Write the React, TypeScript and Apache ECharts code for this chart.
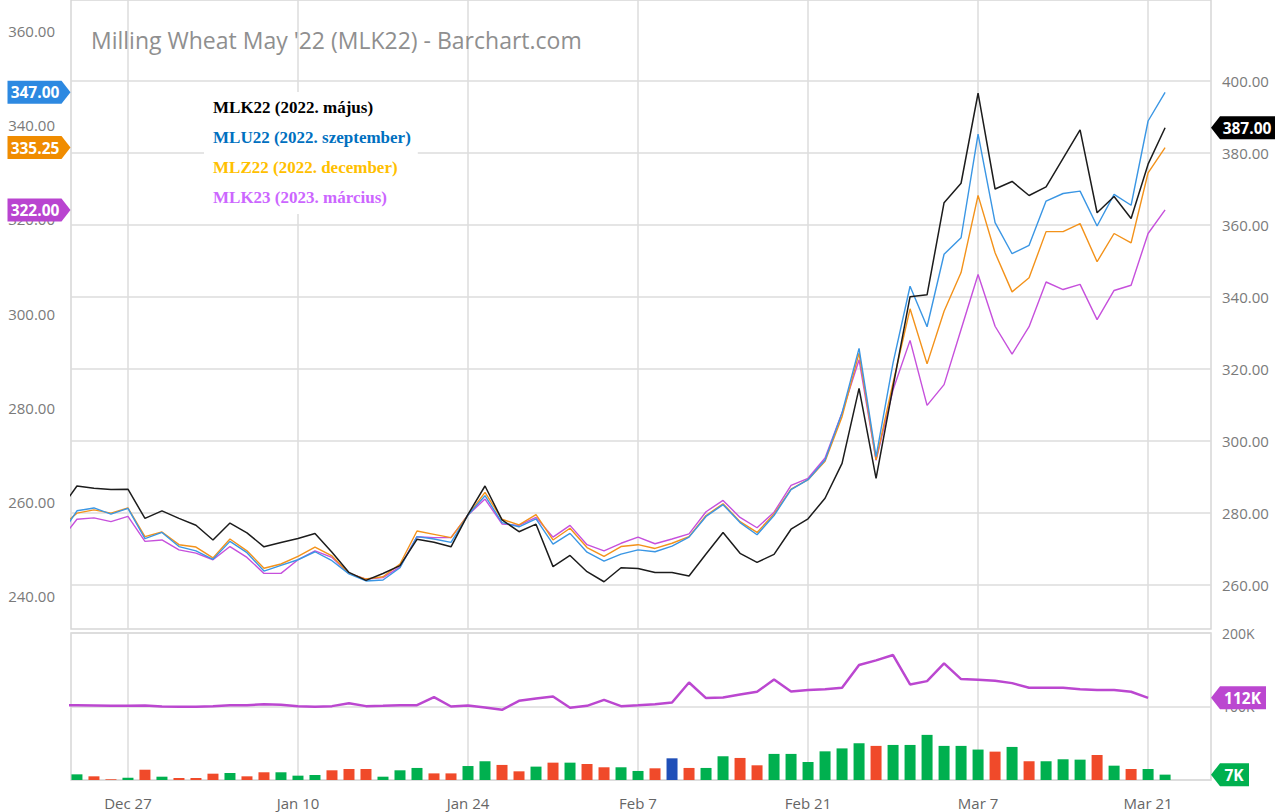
import React, { useEffect, useRef } from 'react';
import * as echarts from 'echarts';

// Trading days; the first one (Dec 21) lies just left of the visible range.
const dates = [
  'Dec 21', 'Dec 22', 'Dec 23', 'Dec 24', 'Dec 27', 'Dec 28', 'Dec 29', 'Dec 30', 'Dec 31',
  'Jan 3', 'Jan 4', 'Jan 5', 'Jan 6', 'Jan 7', 'Jan 10', 'Jan 11', 'Jan 12', 'Jan 13', 'Jan 14',
  'Jan 17', 'Jan 18', 'Jan 19', 'Jan 20', 'Jan 21', 'Jan 24', 'Jan 25', 'Jan 26', 'Jan 27', 'Jan 28',
  'Jan 31', 'Feb 1', 'Feb 2', 'Feb 3', 'Feb 4', 'Feb 7', 'Feb 8', 'Feb 9', 'Feb 10', 'Feb 11',
  'Feb 14', 'Feb 15', 'Feb 16', 'Feb 17', 'Feb 18', 'Feb 21', 'Feb 22', 'Feb 23', 'Feb 24', 'Feb 25',
  'Feb 28', 'Mar 1', 'Mar 2', 'Mar 3', 'Mar 4', 'Mar 7', 'Mar 8', 'Mar 9', 'Mar 10', 'Mar 11',
  'Mar 14', 'Mar 15', 'Mar 16', 'Mar 17', 'Mar 18', 'Mar 21', 'Mar 22',
];
const xLabelDates = ['Dec 27', 'Jan 10', 'Jan 24', 'Feb 7', 'Feb 21', 'Mar 7', 'Mar 21'];

const seriesNames = [
  'MLK22 (2022. május)',
  'MLU22 (2022. szeptember)',
  'MLZ22 (2022. december)',
  'MLK23 (2023. március)',
];

const mlk22 = [280.9,
  287.5, 286.9, 286.5, 286.6, 278.5, 280.6, 278.5, 276.6, 272.5, 277.2,
  274.5, 270.6, 271.8, 272.9, 274.3, 269.1, 263.5, 261.3, 263.2, 265.4,
  272.7, 271.9, 270.6, 279.6, 287.5, 278.1, 274.8, 276.9, 265.1, 268.2,
  263.7, 260.9, 264.8, 264.6, 263.5, 263.5, 262.5, 268.6, 274.6, 268.8,
  266.3, 268.5, 275.5, 278.4, 284.1, 293.8, 314.6, 289.6, 315.1, 340.1,
  340.6, 366.2, 371.6, 396.6, 370.0, 372.1, 368.2, 370.6, 378.5, 386.4,
  363.4, 367.9, 361.8, 376.9, 387.0];

const mlu22 = [252.7,
  258.1, 258.7, 257.4, 258.6, 252.2, 253.5, 250.5, 249.6, 247.8, 251.6,
  249.2, 245.3, 246.5, 247.7, 249.4, 247.5, 244.7, 243.2, 243.4, 246.0,
  252.6, 252.1, 251.4, 257.2, 261.3, 255.6, 254.7, 256.4, 251.0, 253.3,
  249.3, 247.4, 248.9, 249.8, 249.4, 250.6, 252.5, 256.9, 259.4, 255.6,
  253.0, 257.1, 262.6, 264.7, 268.9, 278.9, 292.6, 269.6, 289.5, 305.8,
  297.2, 312.6, 316.1, 338.1, 319.3, 312.7, 314.5, 323.9, 325.5, 326.0,
  318.6, 325.3, 323.0, 340.9, 347.0];

const mlz22 = [254.5,
  257.6, 258.3, 257.6, 258.7, 252.6, 253.6, 250.9, 250.4, 248.1, 252.1,
  249.6, 245.9, 246.8, 248.4, 250.4, 248.5, 244.8, 243.6, 244.1, 246.8,
  253.8, 253.1, 252.4, 257.2, 262.0, 256.3, 255.1, 257.3, 251.9, 254.4,
  250.3, 248.4, 250.5, 250.9, 250.1, 251.2, 252.6, 257.1, 259.6, 255.8,
  253.5, 257.4, 262.7, 264.7, 268.6, 278.1, 291.6, 268.9, 285.3, 301.0,
  289.3, 300.5, 308.7, 325.1, 312.9, 304.6, 307.6, 317.4, 317.4, 319.1,
  311.0, 317.0, 315.0, 329.9, 335.25];

const mlk23 = [251.7,
  256.3, 256.6, 255.8, 256.9, 251.6, 251.9, 249.8, 249.1, 247.7, 250.5,
  248.2, 244.8, 244.8, 247.7, 249.6, 248.2, 244.8, 243.6, 243.9, 246.2,
  252.6, 252.4, 252.4, 257.2, 260.6, 255.3, 255.0, 256.7, 252.5, 255.0,
  250.9, 249.6, 251.2, 252.5, 251.1, 252.1, 253.2, 257.9, 260.3, 256.7,
  254.5, 257.8, 263.5, 265.0, 269.3, 278.9, 290.2, 268.8, 283.8, 294.3,
  280.5, 284.9, 296.6, 308.3, 297.3, 291.4, 297.2, 306.7, 305.1, 306.2,
  298.7, 304.9, 306.0, 317.0, 322.0];

// Volume in thousands of contracts
const volumeK = [null,
  7.7, 5, 1, 3.2, 14, 4.5, 2.7, 2.7, 8.6, 9.5,
  5, 10.5, 10.5, 5.9, 6.8, 13.2, 15, 15, 4.5, 13.2,
  16.4, 9, 9, 19, 25.5, 20.5, 11.8, 18.2, 23.6, 23.6,
  21.8, 17.3, 17.3, 12.3, 15.9, 29.5, 16.4, 16.4, 32.3, 30,
  20, 35.5, 35.5, 24.5, 39, 43, 50, 46.4, 47.7, 47.7,
  61.4, 46.4, 46.4, 41.4, 38.6, 45, 25.5, 25.5, 28.2, 27.7,
  34, 19.5, 15, 15, 7.3];
// +1 up day, -1 down day, 0 unchanged
const volumeChange = [0,
  1, -1, -1, 1, -1, 1, -1, -1, -1, 1,
  -1, -1, 1, 1, 1, -1, -1, -1, 1, 1,
  1, -1, -1, 1, 1, -1, -1, 1, -1, 1,
  -1, -1, 1, 1, -1, 0, -1, 1, 1, -1,
  -1, 1, 1, 1, 1, 1, 1, -1, 1, 1,
  1, 1, 1, 1, -1, 1, -1, 1, 1, 1,
  -1, 1, -1, 1, 1];
// Open interest in thousands
const openInterestK = [101.8,
  101.8, 101.4, 100.9, 100.9, 101.4, 100, 99.5, 99.5, 100.5, 101.8,
  101.8, 103.2, 102.3, 100.5, 99.5, 100.5, 104.5, 100.5, 100.9, 101.8,
  101.8, 112.7, 100, 101.4, 98.6, 95.5, 107.7, 110.9, 113.6, 98.2,
  100.9, 109.1, 100.5, 101.8, 103.2, 105.5, 132.7, 111.4, 112.3, 116.4,
  120, 136.8, 120.5, 122.3, 123.6, 125.5, 156.4, 162.7, 170, 130,
  134.5, 158.6, 137.3, 136.4, 135, 131.8, 125.5, 125.5, 125.5, 123.6,
  122.3, 122.3, 120, 111.8, null];

const leftTicks = [240, 260, 280, 300, 320, 340, 360];
const rightTicks = [260, 280, 300, 320, 340, 360, 380, 400];

const FONT = "'Open Sans', 'Noto Sans', sans-serif";

export default function App() {
  const ref = useRef<HTMLDivElement>(null);
  useEffect(() => {
    const chart = echarts.init(ref.current!, null, { renderer: 'svg' });
    const X_MIN = -0.35;
    const X_MAX = 66.7;
    const xOf = (k: number) => k - 1;
    const pair = (arr: (number | null)[]) => arr.map((v, k) => [xOf(k), v]);
    const tickPos = xLabelDates.map((d) => xOf(dates.indexOf(d)));
    const labelFor = (v: number) => dates[Math.round(v) + 1] ?? '';
    const lastOf = (arr: (number | null)[]) => {
      for (let i = arr.length - 1; i >= 0; i--) if (arr[i] != null) return arr[i] as number;
      return 0;
    };

    const leftTag = (value: number, color: string) => ({
      silent: true,
      symbol: 'path://M0 0H54L63 11.5L54 23H0Z',
      symbolSize: [63, 23],
      symbolKeepAspect: false,
      symbolOffset: [-32, 0],
      itemStyle: { color },
      label: {
        show: true, position: 'inside', offset: [-4, 0], color: '#fff',
        fontFamily: FONT, fontWeight: 'bold', fontSize: 15.5,
        formatter: () => value.toFixed(2),
      },
      data: [{ coord: [X_MIN, value], value }],
    });
    const rightTag = (value: number, yValue: number, color: string, text: string, w: number, axisX: number) => ({
      silent: true,
      symbol: `path://M0 12L9 0H${w}V24H9Z`,
      symbolSize: [w, 23],
      symbolKeepAspect: false,
      symbolOffset: [w / 2, 0],
      itemStyle: { color },
      label: {
        show: true, position: 'inside', offset: [4, 0], color: '#fff',
        fontFamily: FONT, fontWeight: 'bold', fontSize: 15.5,
        formatter: () => text,
      },
      data: [{ coord: [axisX, yValue], value }],
    });

    const gridLine = { show: true, lineStyle: { color: '#dcdcdc', width: 1.5 } };
    const axisLabelStyle = { color: '#7a7a7a', fontFamily: FONT, fontSize: 15 };

    const lineSeries = (name: string, data: number[], color: string, yAxisIndex: number, width: number, markPoint: any) => ({
      name, type: 'line', xAxisIndex: 0, yAxisIndex, data: pair(data),
      symbol: 'none', lineStyle: { color, width }, itemStyle: { color },
      clip: true, markPoint,
    });

    const mlkLast = lastOf(mlk22);
    const oiLast = lastOf(openInterestK);
    const volLast = lastOf(volumeK);

    chart.setOption({
      animation: false,
      backgroundColor: '#fff',
      title: {
        text: "Milling Wheat May '22 (MLK22) - Barchart.com",
        left: 86, top: 23,
        textStyle: { fontFamily: FONT, fontSize: 23, fontWeight: 'normal', color: '#8f8f8f' },
      },
      legend: {
        orient: 'vertical', left: 204, top: 92,
        padding: [5, 7, 7, 4], itemGap: 10, itemWidth: 0, itemHeight: 20,
        icon: 'none', selectedMode: false, backgroundColor: '#fff',
        textStyle: {
          fontFamily: "'Liberation Serif', 'Times New Roman', serif", fontWeight: 'bold',
          fontSize: 17, lineHeight: 20,
        },
        data: [
          { name: seriesNames[0], textStyle: { color: '#000000' } },
          { name: seriesNames[1], textStyle: { color: '#0070c0' } },
          { name: seriesNames[2], textStyle: { color: '#ffc000' } },
          { name: seriesNames[3], textStyle: { color: '#cc66ff' } },
        ],
      },
      grid: [
        { left: 71, right: 70, top: 0, height: 629, show: true, borderColor: '#d6d6d6', borderWidth: 1.5 },
        { left: 71, right: 70, top: 633, height: 147, show: true, borderColor: '#d6d6d6', borderWidth: 1.5 },
      ],
      xAxis: [
        {
          type: 'value', gridIndex: 0, min: X_MIN, max: X_MAX,
          axisLine: { show: false }, axisTick: { show: false, customValues: tickPos },
          axisLabel: { show: false, customValues: tickPos }, splitLine: gridLine,
        },
        {
          type: 'value', gridIndex: 1, min: X_MIN, max: X_MAX,
          axisLine: { show: false }, axisTick: { show: false, customValues: tickPos },
          axisLabel: { ...axisLabelStyle, color: '#666', margin: 15, customValues: tickPos, formatter: (v: number) => labelFor(v) },
          splitLine: gridLine,
        },
      ],
      yAxis: [
        {
          type: 'value', gridIndex: 0, position: 'left', min: 232.99, max: 366.6,
          axisLine: { show: false }, axisTick: { show: false, customValues: leftTicks },
          axisLabel: { ...axisLabelStyle, margin: 16, customValues: leftTicks, formatter: (v: number) => v.toFixed(2) },
          splitLine: { show: false },
        },
        {
          type: 'value', gridIndex: 0, position: 'right', min: 247.78, max: 422.5,
          axisLine: { show: false }, axisTick: { show: false, customValues: rightTicks },
          axisLabel: { ...axisLabelStyle, margin: 11, customValues: rightTicks, formatter: (v: number) => v.toFixed(2) },
          splitLine: gridLine,
        },
        {
          type: 'value', gridIndex: 1, position: 'right', min: 0, max: 200, interval: 100,
          axisLine: { show: false }, axisTick: { show: false },
          axisLabel: { ...axisLabelStyle, fontSize: 14, margin: 11, formatter: (v: number) => (v ? `${v}K` : '') },
          splitLine: gridLine,
        },
      ],
      series: [
        lineSeries(seriesNames[3], mlk23, '#c650dc', 0, 1.4, leftTag(lastOf(mlk23), '#b944d0')),
        lineSeries(seriesNames[2], mlz22, '#f3921a', 0, 1.4, leftTag(lastOf(mlz22), '#f08c00')),
        lineSeries(seriesNames[1], mlu22, '#3a96e4', 0, 1.4, leftTag(lastOf(mlu22), '#2d89e1')),
        lineSeries(seriesNames[0], mlk22, '#1c1c1c', 1, 1.5,
          rightTag(mlkLast, mlkLast, '#000000', mlkLast.toFixed(2), 64, X_MAX)),
        {
          name: 'Volume', type: 'bar', xAxisIndex: 1, yAxisIndex: 2, barWidth: 11,
          data: volumeK.map((v, k) => ({
            value: [xOf(k), v],
            itemStyle: { color: volumeChange[k] > 0 ? '#00b04f' : volumeChange[k] < 0 ? '#f04a2a' : '#1f4fb8' },
          })),
          markPoint: rightTag(volLast, volLast, '#00b04f', `${Math.round(volLast)}K`, 38, X_MAX),
        },
        {
          name: 'Open Interest', type: 'line', xAxisIndex: 1, yAxisIndex: 2,
          data: pair(openInterestK), symbol: 'none', clip: true,
          lineStyle: { color: '#bb47d0', width: 2.5 }, itemStyle: { color: '#bb47d0' },
          markPoint: rightTag(oiLast, oiLast, '#bb47d0', `${Math.round(oiLast)}K`, 55, X_MAX),
        },
      ],
    });
    return () => chart.dispose();
  }, []);
  return <div ref={ref} style={{ position: 'absolute', left: 0, top: 0, width: 1281, height: 812 }} />;
}
